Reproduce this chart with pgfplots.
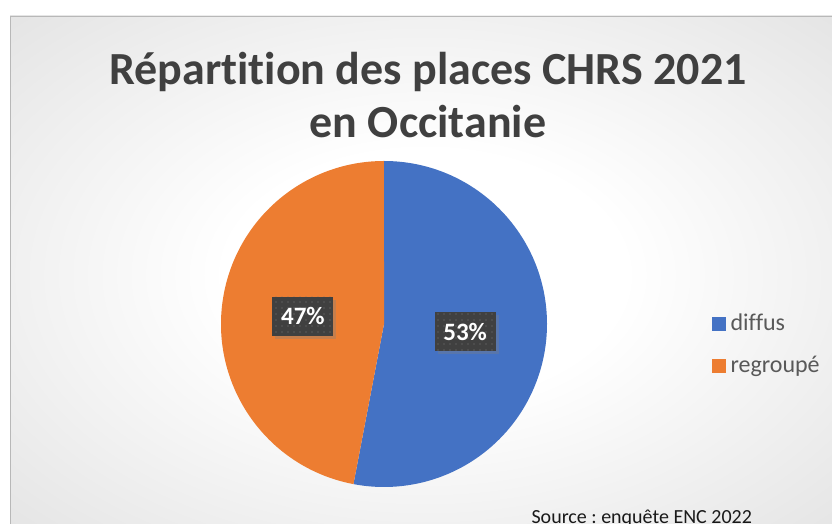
\documentclass[border=0pt]{standalone}
\usepackage{pgfplots}
\pgfplotsset{compat=1.18}
\usepackage{pgfplotstable}
\usetikzlibrary{patterns.meta,shadows}
\usepackage{fontspec}
\setmainfont[Ligatures=NoCommon]{Carlito}
\frenchspacing

\definecolor{pieblue}{HTML}{4472C4}
\definecolor{pieorange}{HTML}{ED7D31}
\definecolor{titlegray}{HTML}{404040}
\definecolor{legendgray}{HTML}{595959}
\definecolor{boxgray}{HTML}{404040}

% radial background, white centre to light grey corners
\pgfdeclareradialshading{chartbg}{\pgfpoint{0bp}{0bp}}{%
  color(0bp)=(white); color(12bp)=(white); color(50bp)=(black!17);
  color(71bp)=(black!22); color(100bp)=(black!22)}

\tikzset{lbl/.style={fill=boxgray, text=white, font=\fontsize{25}{28}\selectfont\bfseries,
  minimum width=61pt, minimum height=39pt, inner sep=0pt,
  drop shadow={shadow xshift=3pt, shadow yshift=-3pt, opacity=0.35},
  postaction={pattern={Dots[distance=6pt, radius=0.7pt]}, pattern color=white!30!boxgray}}}

\pgfplotstableread{
label    value
diffus   53
regroupé 47
}\piedata

\begin{document}
\begin{tikzpicture}[x=1pt,y=1pt]
  \useasboundingbox (0,0) rectangle (832,524);
  \fill[white] (0,0) rectangle (832,524);
  \shade[shading=chartbg] (10,-10) rectangle (840,508);
  \draw[black!28, line width=0.8pt] (10,-10) -- (10,508) -- (840,508);

  % title
  \node[anchor=base, font=\fontsize{46}{52}\selectfont\bfseries, text=titlegray]
    at (428,439) {Répartition des places CHRS 2021};
  \node[anchor=base, font=\fontsize{46}{52}\selectfont\bfseries, text=titlegray]
    at (428,386) {en Occitanie};

  % values from the table
  \pgfplotstablegetelem{0}{value}\of\piedata \let\va\pgfplotsretval
  \pgfplotstablegetelem{1}{value}\of\piedata \let\vb\pgfplotsretval
  \pgfmathsetmacro\total{\va+\vb}
  \pgfmathsetmacro\fa{\va/\total}
  \pgfmathsetmacro\fb{\vb/\total}
  \pgfmathsetmacro\aEnd{90-360*\fa}
  \pgfmathsetmacro\bEnd{\aEnd-360*\fb}
  \pgfmathsetmacro\mA{(90+\aEnd)/2}
  \pgfmathsetmacro\mB{(\aEnd+\bEnd)/2}
  \pgfmathtruncatemacro\pA{round(100*\fa)}
  \pgfmathtruncatemacro\pB{round(100*\fb)}
  \def\R{163pt}

  \begin{axis}[
    at={(384pt,200pt)}, anchor=center,
    width=326pt, height=326pt, scale only axis,
    hide axis,
    xmin=-1, xmax=1, ymin=-1, ymax=1,
    legend style={draw=none, fill=none, at={(1.506,0.537)}, anchor=north west,
      font=\fontsize{24}{28}\selectfont, text=legendgray,
      row sep=20pt, inner sep=0pt,
      nodes={inner sep=2pt}},
    legend cell align=left,
    legend image code/.code={\fill[#1] (0pt,-6.5pt) rectangle (13pt,6.5pt);
      \path (16pt,0pt);},
  ]
    \fill[pieblue] (axis cs:0,0) -- (axis cs:0,1)
      arc[start angle=90, end angle=\aEnd, radius=\R] -- cycle;
    \fill[pieorange] (axis cs:0,0) -- (axis cs:{cos(\aEnd)},{sin(\aEnd)})
      arc[start angle=\aEnd, end angle=\bEnd, radius=\R] -- cycle;

    \node[lbl] at (axis cs:{0.5*cos(\mA)},{0.5*sin(\mA)}) {\pA\%};
    \node[lbl] at (axis cs:{0.5*cos(\mB)},{0.5*sin(\mB)}) {\pB\%};

    \addlegendimage{pieblue}
    \addlegendentry{diffus}
    \addlegendimage{pieorange}
    \addlegendentry{regroupé}
  \end{axis}

  \node[anchor=base west, font=\fontsize{20}{24}\selectfont, text=black!90]
    at (528,0.5) {Source : enquête ENC 2022};
\end{tikzpicture}
\end{document}
